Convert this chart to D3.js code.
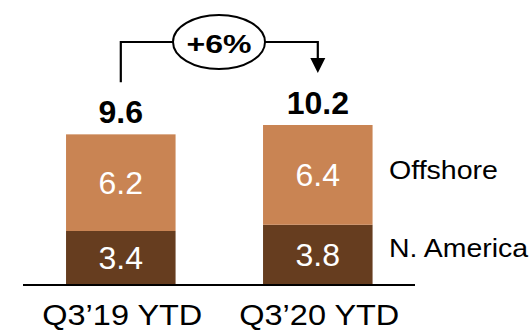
<!DOCTYPE html>
<html>
<head>
<meta charset="utf-8">
<script src="https://cdn.jsdelivr.net/npm/d3@7/dist/d3.min.js"></script>
<style>
  html, body { margin: 0; padding: 0; background: #ffffff; }
  svg { display: block; font-family: "Liberation Sans", Arial, sans-serif; }
</style>
</head>
<body>
<svg id="chart" width="529" height="330"></svg>
<script>
// Revenue by region, year to date
const categories = ["Q3\u201919 YTD", "Q3\u201920 YTD"];
const seriesNames = ["N. America", "Offshore"];
const northAmerica = [3.4, 3.8];
const offshore = [6.2, 6.4];
const totals = [9.6, 10.2];
const growthLabel = "+6%";

const colors = { "N. America": "#663d1f", "Offshore": "#c98453" };

const svg = d3.select("#chart");

const x = d3.scaleBand()
  .domain(categories)
  .range([22.3, 416.3])
  .paddingInner(0.444)
  .paddingOuter(0.222);

const y = d3.scaleLinear()
  .domain([0, 10.2])
  .range([284, 125]);

const rows = categories.map((c, i) => ({
  category: c,
  "N. America": northAmerica[i],
  "Offshore": offshore[i]
}));

const stacked = d3.stack().keys(seriesNames)(rows);

// stacked bars
const layers = svg.append("g").selectAll("g")
  .data(stacked)
  .join("g")
  .attr("fill", d => colors[d.key]);

layers.selectAll("rect")
  .data(d => d)
  .join("rect")
  .attr("x", d => x(d.data.category))
  .attr("width", x.bandwidth())
  .attr("y", d => y(d[1]))
  .attr("height", d => y(d[0]) - y(d[1]));

// segment value labels
layers.selectAll("text")
  .data(d => d.map(v => ({ v, key: d.key })))
  .join("text")
  .attr("x", d => x(d.v.data.category) + x.bandwidth() / 2)
  .attr("y", d => (y(d.v[0]) + y(d.v[1])) / 2 + 11.5)
  .attr("text-anchor", "middle")
  .attr("fill", "#ffffff")
  .attr("font-size", 32)
  .text(d => d.v.data[d.key].toFixed(1));

// baseline
svg.append("line")
  .attr("x1", 23).attr("x2", 415)
  .attr("y1", y(0) + 1).attr("y2", y(0) + 1)
  .attr("stroke", "#000").attr("stroke-width", 2);

// category labels
const xAxis = d3.axisBottom(x).tickSize(0).tickPadding(0);
const axisG = svg.append("g")
  .attr("transform", `translate(0,${y(0)})`)
  .call(xAxis);
axisG.select(".domain").remove();
axisG.selectAll("text")
  .attr("font-family", "Liberation Sans, Arial, sans-serif")
  .attr("font-size", 30)
  .attr("fill", "#000")
  .attr("dy", null)
  .attr("dx", 1.5)
  .attr("y", 41)
  .attr("textLength", 160)
  .attr("lengthAdjust", "spacingAndGlyphs");

// totals
svg.append("g").selectAll("text")
  .data(totals)
  .join("text")
  .attr("x", (d, i) => x(categories[i]) + x.bandwidth() / 2)
  .attr("y", d => y(d) - 11)
  .attr("text-anchor", "middle")
  .attr("font-weight", "bold")
  .attr("font-size", 32)
  .attr("fill", "#000")
  .text(d => d.toFixed(1));

// series labels to the right of the last bar
const lastIdx = categories.length - 1;
const legendLen = { "Offshore": 109, "N. America": 139 };
svg.append("g").selectAll("text")
  .data(stacked)
  .join("text")
  .attr("x", 389)
  .attr("y", d => {
    const s = d[lastIdx];
    return (y(s[0]) + y(s[1])) / 2 + (d.key === "Offshore" ? 4 : 3);
  })
  .attr("font-size", 25)
  .attr("fill", "#000")
  .attr("textLength", d => legendLen[d.key])
  .attr("lengthAdjust", "spacingAndGlyphs")
  .text(d => d.key);

// growth bracket
const cx0 = x(categories[0]) + x.bandwidth() / 2;
const cx1 = x(categories[1]) + x.bandwidth() / 2;
const bracketTop = 42;
const leftBottom = y(totals[0]) - 52;
const tipY = y(totals[1]) - 52;
const midX = 219;

svg.append("path")
  .attr("d", `M${cx0},${leftBottom} V${bracketTop} H${cx1} V${tipY - 14}`)
  .attr("fill", "none")
  .attr("stroke", "#000")
  .attr("stroke-width", 2.2);

svg.append("path")
  .attr("d", `M${cx1 - 7.5},${tipY - 15} L${cx1 + 7.5},${tipY - 15} L${cx1},${tipY} Z`)
  .attr("fill", "#000");

svg.append("ellipse")
  .attr("cx", midX)
  .attr("cy", bracketTop)
  .attr("rx", 46)
  .attr("ry", 27)
  .attr("fill", "#fff")
  .attr("stroke", "#000")
  .attr("stroke-width", 2);

svg.append("text")
  .attr("x", midX)
  .attr("y", bracketTop + 11)
  .attr("text-anchor", "middle")
  .attr("font-weight", "bold")
  .attr("font-size", 25)
  .attr("fill", "#000")
  .attr("textLength", 65)
  .attr("lengthAdjust", "spacingAndGlyphs")
  .text(growthLabel);
</script>
</body>
</html>
